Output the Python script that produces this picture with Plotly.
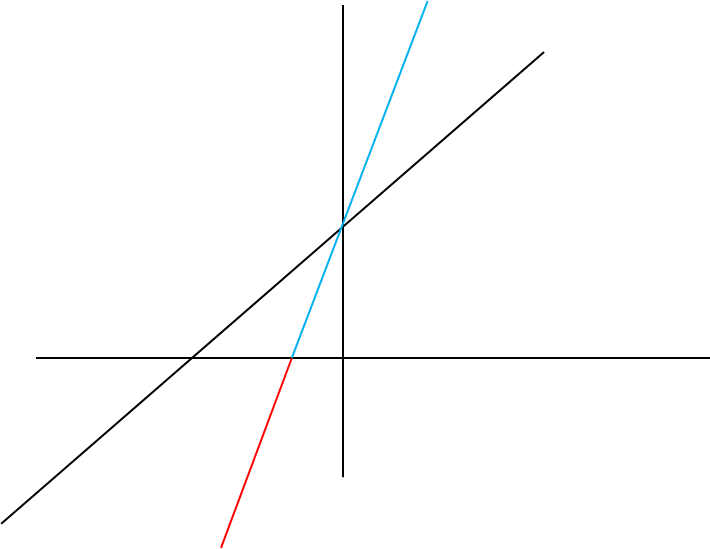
import plotly.graph_objects as go

# 坐标轴（十字）
axis_x = [-6.0, 7.2]
axis_y = [-2.33, 6.9]

# 黑色直线端点
black_x = [-6.68, 3.93]
black_y = [-3.24, 5.98]

# 蓝色部分（x轴以上）与红色部分（x轴以下）
blue_x = [-1.0, 1.655]
blue_y = [0.0, 6.98]
red_x = [-1.0, -2.384]
red_y = [0.0, -3.71]

fig = go.Figure()

# 横轴、纵轴
fig.add_trace(go.Scatter(x=axis_x, y=[0, 0], mode='lines',
                         line=dict(color='black', width=2), hoverinfo='skip'))
fig.add_trace(go.Scatter(x=[0, 0], y=axis_y, mode='lines',
                         line=dict(color='black', width=2), hoverinfo='skip'))

# 三条线段
fig.add_trace(go.Scatter(x=black_x, y=black_y, mode='lines',
                         line=dict(color='black', width=2)))
fig.add_trace(go.Scatter(x=red_x, y=red_y, mode='lines',
                         line=dict(color='#ff0000', width=2)))
fig.add_trace(go.Scatter(x=blue_x, y=blue_y, mode='lines',
                         line=dict(color='#00b0f0', width=2)))

fig.update_layout(
    width=710,
    height=549,
    margin=dict(l=0, r=0, t=0, b=0),
    showlegend=False,
    plot_bgcolor='white',
    paper_bgcolor='white',
    xaxis=dict(range=[-6.703, 7.172], visible=False, fixedrange=True),
    yaxis=dict(range=[-3.733, 6.996], visible=False, fixedrange=True),
)

# 去掉页面默认边距，图表贴齐窗口
fig.write_html("out.html", config={'displayModeBar': False},
               post_script="document.body.style.margin='0';document.body.style.overflow='hidden';")
